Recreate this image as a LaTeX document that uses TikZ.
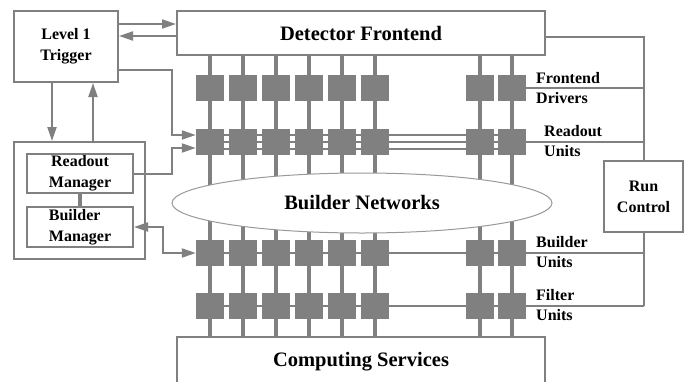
\documentclass[tikz,border=0pt]{standalone}
\usepackage{fontspec}
\setmainfont{Liberation Serif}
\usetikzlibrary{shapes,arrows.meta,backgrounds}

\begin{document}
\begin{tikzpicture}[
	x=1pt, y=-1pt,
	box/.style={
		draw=gray, line width=2pt,
		inner sep=0pt,
		align=center,
		font=\fontsize{16}{21}\selectfont\bfseries
	},
	big/.style={font=\fontsize{20.5}{24}\selectfont\bfseries},
	unit/.style={fill=gray, inner sep=0pt, minimum width=28pt, minimum height=26pt},
	tag/.style={anchor=west, inner sep=0pt, align=left, font=\fontsize{16}{20}\selectfont\bfseries},
	conn/.style={draw=gray, line width=2pt},
	arr/.style={-{Triangle[length=14pt,width=9pt]}},
	dblarr/.style={{Triangle[length=14pt,width=9pt]}-{Triangle[length=14pt,width=9pt]}},
	bus/.style={draw=gray, line width=4pt},
	thinbus/.style={draw=gray, line width=1.3pt}
]
\clip (0,0) rectangle (688,381);

% boxes
\node[box, big, minimum width=368pt, minimum height=44pt] (detector) at (361,33) {Detector Frontend};
\node[box, big, minimum width=368pt, minimum height=50pt] (services) at (361,362) {Computing Services};
\node[box, minimum width=104pt, minimum height=71pt] (trigger) at (66,46.5) {Level 1\\Trigger};
\node[box, minimum width=131pt, minimum height=117pt] (managers) at (79.5,200.5) {};
\node[box, minimum width=106pt, minimum height=39pt] (readoutmgr) at (80,173.5) {Readout\\Manager};
\node[box, align=left, minimum width=106pt, minimum height=40pt] (buildermgr) at (80,227) {Builder\\Manager};
\node[box, minimum width=79pt, minimum height=71pt] (runcontrol) at (643.5,196.5) {Run\\Control};

% units
\foreach \i/\x in {1/210,2/243,3/276,4/309,5/342,6/375,7/480,8/512}
	\foreach \r/\y in {fed/88,ru/142,bu/253,fu/306}
		\node[unit] (\r\i) at (\x,\y) {};

% network
\node[ellipse, draw=gray!80, line width=1pt, fill=white, minimum width=380pt, minimum height=60pt, big] (network) at (362,203) {Builder Networks};

% labels
\node[tag] (fedlabel) at (536,88.5) {Frontend\\Drivers};
\node[tag] (rulabel) at (544,141) {Readout\\Units};
\node[tag] (bulabel) at (536,252) {Builder\\Units};
\node[tag] (fulabel) at (536,305.5) {Filter\\Units};

% columns and rows
\begin{scope}[on background layer]
\foreach \i in {1,...,8}
	\draw[bus] (fed\i |- detector.south) -- (fu\i |- services.north);
\foreach \s in {-7,0,7}
	\draw[thinbus] ([yshift=\s pt]ru1.center) -- ([yshift=\s pt]ru8.center);
\draw[conn] (bu1.center) -- (bu8.center);
\draw[conn] (fu1.center) -- (fu8.center);
\end{scope}

% run control bus
\coordinate (rc) at ([yshift=-4pt]detector.east);
\draw[conn] (rc) -| (runcontrol.north);
\draw[conn] (runcontrol.south) -- (runcontrol.south |- fu8);
\foreach \r in {fed,ru,bu,fu}
	\draw[conn] (\r8.east) -- (\r8 -| runcontrol);

% trigger
\coordinate (t1) at ([yshift=22.5pt]trigger.east);
\coordinate (t2) at ([yshift=10.5pt]trigger.east);
\coordinate (t3) at ([yshift=-23.5pt]trigger.east);
\draw[conn, arr] (t1) -- (t1 -| detector.west);
\draw[conn, arr] (t2 -| detector.west) -- (t2);
\coordinate (d1) at ([xshift=-14pt]trigger.south);
\coordinate (u1) at ([xshift=27pt]trigger.south);
\draw[conn, arr] (d1) -- (d1 |- managers.north);
\draw[conn, arr] (u1 |- managers.north) -- (u1);

% readout and builder links
\coordinate (r1) at ([yshift=7pt]ru1.west);
\coordinate (r2) at ([yshift=-6pt]ru1.west);
\draw[conn, arr] (t3) -| ([xshift=-24pt]r1) -- (r1);
\draw[conn, arr] (readoutmgr.east) -| ([xshift=-24pt]r2) -- (r2);
\draw[conn, dblarr] (buildermgr.east) -| ([xshift=-33pt]bu1.west) -- (bu1.west);
\draw[bus] (readoutmgr) -- (buildermgr);
\end{tikzpicture}
\end{document}
